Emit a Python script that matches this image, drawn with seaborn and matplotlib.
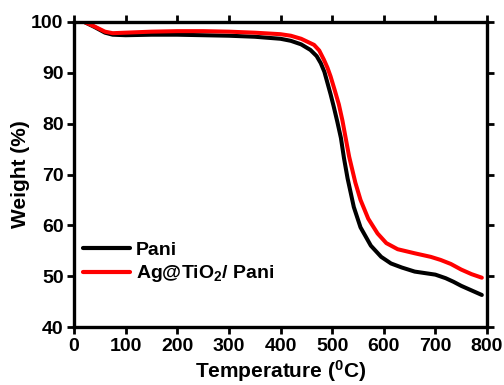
import matplotlib
matplotlib.use("Agg")
import matplotlib.pyplot as plt
import seaborn as sns
import pandas as pd

temp_pani = [20, 40, 60, 75, 100, 150, 200, 250, 300, 350, 400, 420, 440, 458, 470, 478, 485, 491,
             497, 503, 510, 517, 523, 530, 542, 555, 575, 595, 614, 635, 660, 700, 720, 735, 750, 770, 790]
weight_pani = [100, 99.0, 97.9, 97.5, 97.4, 97.5, 97.5, 97.4, 97.3, 97.1, 96.7, 96.3, 95.6, 94.5, 93.3, 91.9, 90.2, 88.0,
               85.8, 83.4, 80.4, 77.2, 73.2, 69.2, 63.6, 59.6, 56.0, 53.8, 52.5, 51.7, 50.9, 50.3, 49.6, 48.9, 48.1, 47.2, 46.3]

temp_ag = [20, 40, 60, 75, 100, 150, 200, 250, 300, 350, 400, 420, 440, 465, 475, 484, 491, 497,
           505, 513, 520, 526, 533, 545, 555, 570, 588, 605, 627, 660, 691, 710, 730, 750, 770, 790]
weight_ag = [100, 99.1, 98.1, 97.8, 97.9, 98.1, 98.2, 98.2, 98.1, 97.9, 97.6, 97.3, 96.7, 95.5, 94.4, 92.6, 91.0, 89.3,
             86.6, 83.8, 80.6, 77.3, 73.5, 68.4, 65.0, 61.3, 58.4, 56.5, 55.3, 54.5, 53.8, 53.2, 52.4, 51.3, 50.4, 49.7]

series_names = ["Pani", "Ag@TiO$_2$/ Pani"]
xticks = [0, 100, 200, 300, 400, 500, 600, 700, 800]
yticks = [40, 50, 60, 70, 80, 90, 100]

sns.set_style("ticks")
plt.rcParams['font.family'] = ['Liberation Sans', 'DejaVu Sans']
plt.rcParams['font.weight'] = 'bold'
plt.rcParams['mathtext.fontset'] = 'custom'
plt.rcParams['mathtext.rm'] = 'Liberation Sans:bold'
plt.rcParams['mathtext.it'] = 'Liberation Sans:bold'
plt.rcParams['mathtext.bf'] = 'Liberation Sans:bold'
plt.rcParams['mathtext.default'] = 'rm'
for k in ['text.color', 'axes.labelcolor', 'xtick.color', 'ytick.color', 'axes.edgecolor']:
    plt.rcParams[k] = 'black'

df = pd.concat([
    pd.DataFrame({"T": temp_pani, "W": weight_pani, "s": series_names[0]}),
    pd.DataFrame({"T": temp_ag, "W": weight_ag, "s": series_names[1]}),
])

fig = plt.figure(figsize=(5.04, 3.85), dpi=100)
ax = fig.add_axes([74/504, 1 - 327/385, (487-74)/504, (327-22)/385])
sns.lineplot(data=df, x="T", y="W", hue="s", palette=["black", "#ff0000"],
             linewidth=2.9, ax=ax, sort=False, estimator=None)
ax.set_xlim(0, 800)
ax.set_ylim(40, 100)
ax.set_xticks(xticks)
ax.set_yticks(yticks)
for s in ax.spines.values():
    s.set_linewidth(2.4)
    s.set_visible(True)
ax.tick_params(axis='both', which='major', direction='out', length=5, width=2,
               labelsize=14)
ax.tick_params(axis='x', pad=3)
ax.tick_params(axis='y', pad=2.5)
ax.tick_params(top=True, right=True, labeltop=False, labelright=False)
for t in ax.get_xticklabels() + ax.get_yticklabels():
    t.set_fontweight('bold')
ax.set_xlabel("Temperature ($^0$C)", fontsize=15, fontweight='bold', labelpad=2.5)
ax.set_ylabel("Weight (%)", fontsize=15, fontweight='bold', labelpad=1)
leg = ax.legend(loc='lower left', bbox_to_anchor=(-0.01, 0.095), frameon=False,
                handlelength=2.4, handletextpad=0.3, labelspacing=0.25,
                borderaxespad=0.3, prop={'weight': 'bold', 'size': 14})
for l in leg.get_lines():
    l.set_linewidth(3)
fig.savefig("out.png", dpi=100)
